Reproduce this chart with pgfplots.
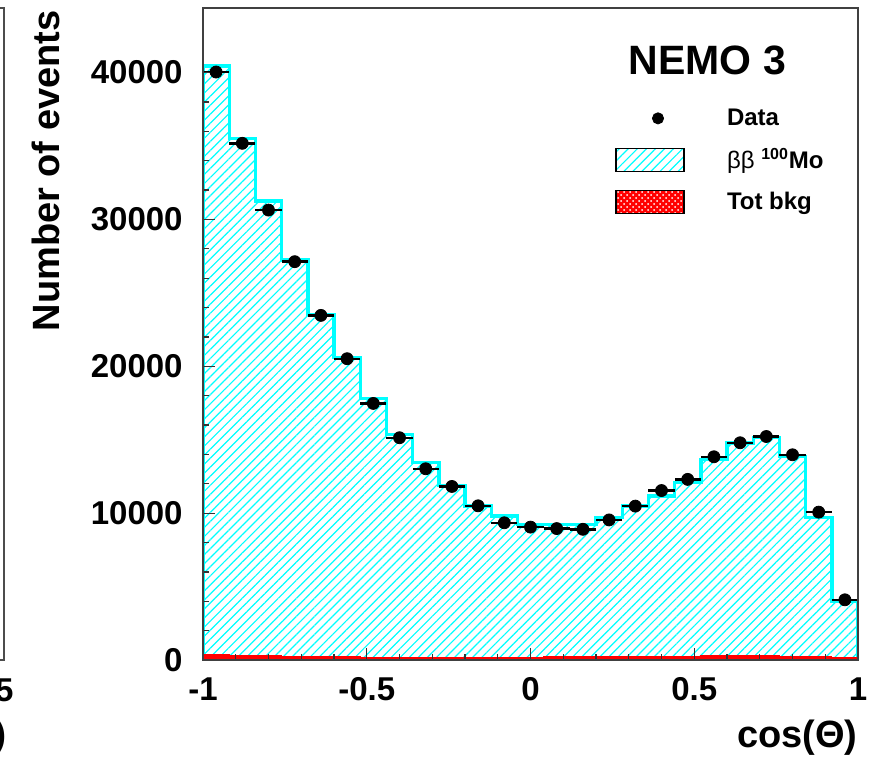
\documentclass[border=0pt]{standalone}
\usepackage{fontspec}
\setmainfont{Liberation Sans}
\usepackage{pgfplots}
\pgfplotsset{compat=1.18}
\usetikzlibrary{patterns,patterns.meta}
\definecolor{rootcyan}{RGB}{0,255,255}
\definecolor{rootred}{RGB}{255,0,0}

\begin{document}
\begin{tikzpicture}[x=0.5pt,y=0.5pt]
\useasboundingbox (0,0) rectangle (881,768);
% remnant of the neighbouring panel
\draw[black!70, line width=0.8pt] (-10,760) -- (4,760) -- (4,108) -- (-10,108);
\node[anchor=east, inner sep=0pt, font=\fontsize{16.5}{18}\selectfont\bfseries] at (14,78) {5};
\node[anchor=east, inner sep=0pt, font=\fontsize{18}{20}\selectfont\bfseries] at (7,31) {)};
\begin{axis}[
  at={(101.5pt,54pt)}, anchor=south west,
  scale only axis, width=327.5pt, height=326pt,
  xmin=-1, xmax=1, ymin=0, ymax=44400,
  axis on top,
  tick pos=left, tick align=inside,
  xtick={-1,-0.5,0,0.5,1}, xticklabels={-1,-0.5,0,0.5,1},
  ytick={0,10000,20000,30000,40000}, yticklabels={0,10000,20000,30000,40000},
  minor x tick num=4, minor y tick num=4,
  major tick length=6pt, minor tick length=3pt,
  every tick/.style={black!80, line width=0.6pt},
  axis line style={black!75, line width=0.9pt},
  ticklabel style={font=\fontsize{16.5}{18}\selectfont\bfseries, inner sep=0pt},
  yticklabel style={anchor=east, xshift=-10pt},
  xticklabel style={anchor=north, yshift=-8.5pt},
  xlabel={cos(Θ)},
  every axis x label/.style={at={(rel axis cs:1,0)}, anchor=north east, yshift=-30pt, inner sep=0pt, font=\fontsize{19}{21}\selectfont\bfseries},
  ylabel={Number of events},
  every axis y label/.style={at={(rel axis cs:0,1)}, xshift=-71.5pt, yshift=-1pt, rotate=90, anchor=south east, inner sep=0pt, font=\fontsize{19}{21}\selectfont\bfseries},
  legend style={at={(0.629,0.849)}, anchor=north west, draw=none, fill=none, inner sep=0pt,
    font=\fontsize{12}{14}\selectfont\bfseries, row sep=9pt, nodes={inner sep=0pt}},
  legend cell align=left,
]
% beta beta 100Mo simulation
\addplot[forget plot, const plot, draw=rootcyan, line width=1.7pt,
  pattern={Lines[angle=45,distance=3.2pt,line width=0.6pt]}, pattern color=rootcyan]
coordinates {(-1,0) (-1,40450) (-0.92,35500) (-0.84,31250) (-0.76,27230) (-0.68,23540)
 (-0.60,20590) (-0.52,17810) (-0.44,15360) (-0.36,13430) (-0.28,11890) (-0.20,10480)
 (-0.12,9800) (-0.04,9230) (0.04,9230) (0.12,9230) (0.20,9690) (0.28,10480) (0.36,11160)
 (0.44,12070) (0.52,13660) (0.60,14790) (0.68,15140) (0.76,13860) (0.84,9690) (0.92,4005)
 (1,4005) (1,0)};
% total background
\addplot[forget plot, const plot, draw=rootred, line width=0.6pt, fill=rootred]
coordinates {(-1,0) (-1,350) (-0.92,330) (-0.84,300) (-0.76,250) (-0.68,220) (-0.60,200)
 (-0.52,180) (-0.44,170) (-0.36,160) (-0.28,150) (-0.20,150) (-0.12,160) (-0.04,170)
 (0.04,200) (0.12,230) (0.20,220) (0.28,220) (0.36,230) (0.44,260) (0.52,300) (0.60,320)
 (0.68,310) (0.76,260) (0.84,200) (0.92,150) (1,150) (1,0)};
% data
\addplot[forget plot, only marks, mark=*, mark size=3pt, black,
  error bars/.cd, x dir=both, x fixed=0.04, error mark=none,
  error bar style={line width=1.2pt, black}]
coordinates {(-0.96,40040) (-0.88,35185) (-0.80,30640) (-0.72,27125) (-0.64,23467)
 (-0.56,20518) (-0.48,17473) (-0.40,15136) (-0.32,13024) (-0.24,11820) (-0.16,10500)
 (-0.08,9345) (0.00,9050) (0.08,8950) (0.16,8900) (0.24,9540) (0.32,10480) (0.40,11540)
 (0.48,12300) (0.56,13840) (0.64,14795) (0.72,15220) (0.80,13975) (0.88,10070) (0.96,4100)};

\addlegendimage{legend image code/.code={\path[draw=none,fill=none] (0pt,-5.75pt) rectangle (55.5pt,5.75pt); \fill[black] (21pt,0pt) circle (2.8pt);}}
\addlegendentry{Data}
\addlegendimage{legend image code/.code={\path[draw=none,fill=none] (0pt,-5.75pt) rectangle (55.5pt,5.75pt);
  \fill[pattern={Lines[angle=45,distance=3.2pt,line width=0.6pt]}, pattern color=rootcyan] (0pt,-5.75pt) rectangle (34pt,5.75pt);
  \draw[black, line width=0.6pt] (0pt,-5.75pt) rectangle (34pt,5.75pt);}}
\addlegendentry{{\mdseries ββ} \textsuperscript{100}Mo}
\addlegendimage{legend image code/.code={\path[draw=none,fill=none] (0pt,-5.75pt) rectangle (55.5pt,5.75pt);
  \fill[rootred] (0pt,-5.75pt) rectangle (34pt,5.75pt);
  \fill[pattern=crosshatch dots, pattern color=white] (0pt,-5.75pt) rectangle (34pt,5.75pt);
  \draw[black, line width=0.6pt] (0pt,-5.75pt) rectangle (34pt,5.75pt);}}
\addlegendentry{Tot bkg}

\node[font=\fontsize{20.5}{22}\selectfont\bfseries, inner sep=0pt] at (rel axis cs:0.770,0.919) {NEMO 3};
\end{axis}
\end{tikzpicture}
\end{document}
